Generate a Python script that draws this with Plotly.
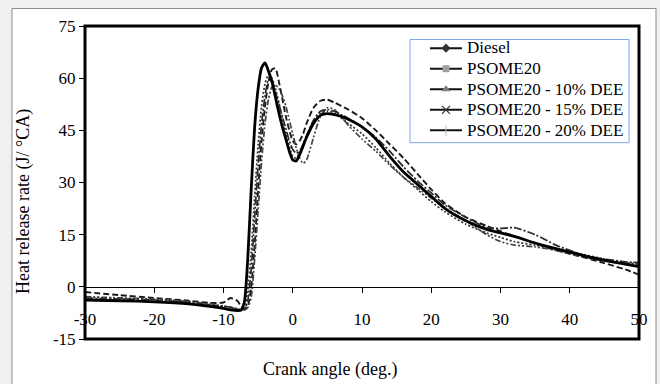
import plotly.graph_objects as go

crank_angle = [-30, -25, -20, -15, -12, -10, -9, -8, -7.5, -7, -6.5, -6, -5.5, -5, -4.5, -4,
               -3.5, -3, -2.5, -2, -1.5, -1, -0.5, 0, 0.5, 1, 1.5, 2, 3, 4, 5, 6, 7, 8, 10,
               12, 14, 16, 18, 20, 22, 25, 28, 30, 32, 35, 38, 40, 42, 45, 48, 50]

diesel = [-1.5, -2.4, -3.2, -4.0, -4.6, -4.5, -3.2, -4.0, -5.5, -6.2, -5.5, 0, 12, 28, 42, 52,
          59, 62.5, 62.8, 59, 54, 49, 45, 42, 41, 42, 44, 47, 51.5, 53.5, 53.8, 53, 52, 51, 48.5,
          45, 41, 37, 32.5, 28, 24, 20, 17.5, 16, 14.5, 12.5, 10.5, 9.5, 8.5, 6.8, 5, 3.5]

psome20 = [-2.8, -3.2, -3.5, -4.2, -5.0, -5.8, -6.0, -6.5, -6.8, -6.7, -6.0, -3, 8, 22, 36, 47,
           54, 57.5, 58, 57, 55, 52, 48, 44, 40, 37, 35.5, 36.5, 43, 49, 51.5, 51, 49, 46.5, 42.5,
           39, 35, 31.5, 28.5, 25.5, 22.5, 19, 15, 13, 12, 11.5, 10.5, 9.5, 8.5, 7.5, 6.8, 6.5]

psome20_dee10 = [-3.3, -3.5, -3.8, -4.5, -5.2, -5.6, -5.8, -6.3, -6.6, -6.5, -4, 5, 20, 35, 47, 55,
                 59.5, 59, 56, 52.5, 49, 45.5, 42, 39.5, 38.5, 39, 41, 43.5, 48, 50.5, 51, 50.5, 49.5,
                 48.5, 46, 43, 39, 34.5, 30.5, 27, 23.5, 20, 17, 16.8, 17, 15, 12, 10.5, 9, 8, 7.2, 7]

psome20_dee15 = [-3.0, -3.3, -3.7, -4.4, -5.0, -5.5, -6.0, -6.5, -6.8, -6.0, -1, 10, 26, 41, 52,
                 58.5, 61, 60, 57, 53, 48.5, 44, 40.5, 37.5, 37, 38.5, 41, 43.5, 47.5, 50, 50.5, 50,
                 48.5, 47, 44, 40, 35.5, 31.5, 28, 24.5, 21.5, 18, 15.5, 14.2, 13, 12, 11, 10.2, 9.3,
                 8, 7, 6.5]

psome20_dee20 = [-3.8, -4.0, -4.3, -4.9, -5.6, -6.2, -6.6, -6.8, -6.7, -4.5, 8, 28, 46, 57, 63,
                 64.4, 62, 59, 54.5, 50, 46, 42.5, 39, 36.5, 36.2, 38, 40.5, 43, 47, 49.3, 49.8,
                 49.5, 49, 48.2, 46, 42.5, 37.5, 33, 29.5, 26, 22.5, 19, 16.5, 15.5, 14.5, 12.6, 11,
                 10, 9, 7.6, 6.5, 5.8]

series_names = ["Diesel", "PSOME20", "PSOME20 - 10% DEE", "PSOME20 - 15% DEE", "PSOME20 - 20% DEE"]
series_values = [diesel, psome20, psome20_dee10, psome20_dee15, psome20_dee20]

x_ticks = [-30, -20, -10, 0, 10, 20, 30, 40, 50]
y_ticks = [-15, 0, 15, 30, 45, 60, 75]

plot_styles = [
    dict(color="#1a1a1a", width=1.9, dash="6px,3px"),
    dict(color="#444444", width=1.7, dash="6px,2px,2px,2px,2px,2px"),
    dict(color="#2a2a2a", width=1.7, dash="8px,2px,2px,2px"),
    dict(color="#333333", width=1.7, dash="2px,2px"),
    dict(color="#000000", width=2.8, dash="solid"),
]
legend_markers = [
    dict(symbol="diamond", size=7, color="#333333"),
    dict(symbol="square", size=7, color="#a0a0a0"),
    dict(symbol="triangle-up", size=8, color="#808080"),
    dict(symbol="x-thin", size=8, color="#333333", line=dict(width=1.2, color="#333333")),
    dict(symbol="line-ns", size=8, color="#bbbbbb", line=dict(width=1, color="#bbbbbb")),
]

FONT = "Liberation Serif, Times New Roman, serif"

fig = go.Figure()
for name, vals, st in zip(series_names, series_values, plot_styles):
    fig.add_trace(go.Scatter(x=crank_angle, y=vals, mode="lines", line=dict(shape="spline", smoothing=0.6, **st),
                             showlegend=False, hoverinfo="skip"))
for name, mk in zip(series_names, legend_markers):
    fig.add_trace(go.Scatter(x=[None], y=[None], mode="lines+markers",
                             name='<span style="font-size:17px">' + name + '</span>',
                             line=dict(color="#111111", width=2), marker=mk))

fig.update_layout(
    width=660, height=384,
    margin=dict(l=85, r=21, t=26, b=45),
    paper_bgcolor="#f0f0f0",
    plot_bgcolor="white",
    font=dict(family=FONT, size=17, color="black"),
    showlegend=True,
    legend=dict(x=0.6137, y=0.978, xanchor="left", yanchor="top",
                bgcolor="rgba(0,0,0,0)", borderwidth=0,
                font=dict(family=FONT, size=13.5, color="black"),
                itemwidth=32, tracegroupgap=0),
    xaxis=dict(range=[-30, 50], tickvals=x_ticks, ticktext=[str(v) for v in x_ticks],
               anchor="free", position=1/6, showline=True, linecolor="black", linewidth=1,
               ticks="outside", ticklen=5, tickcolor="black", showgrid=False, zeroline=False,
               ticklabelstandoff=12, tickfont=dict(size=17)),
    yaxis=dict(range=[-15, 75], tickvals=y_ticks, ticktext=[str(v) for v in y_ticks],
               showline=False, ticks="outside", ticklen=5, tickcolor="black",
               showgrid=False, zeroline=False, tickfont=dict(size=17)),
    shapes=[
        dict(type="rect", xref="paper", yref="paper", x0=-0.1318, x1=1.0307, y0=-0.2, y1=1.056,
             line=dict(color="#8a8a8a", width=1), fillcolor="white", layer="below"),
        dict(type="rect", xref="paper", yref="paper", x0=0.5866, x1=0.982, y0=0.6272, y1=0.9568,
             line=dict(color="#7fa7e3", width=1), fillcolor="white", layer="above"),
        dict(type="rect", xref="paper", yref="paper", x0=0, x1=1, y0=0, y1=1,
             line=dict(color="black", width=3), layer="above"),
    ],
    annotations=[
        dict(text="Crank angle (deg.)", xref="paper", yref="paper", x=0.442, y=-0.099,
             xanchor="center", yanchor="middle", showarrow=False, font=dict(size=18)),
        dict(text="Heat release rate (J/ °CA)", xref="paper", yref="paper", x=-0.110, y=0.438,
             xanchor="center", yanchor="middle", textangle=-90, showarrow=False, font=dict(size=18)),
    ],
)

fig.write_html("out.html", config={"displayModeBar": False},
               post_script="document.body.style.margin='0';document.body.style.overflow='hidden';")
